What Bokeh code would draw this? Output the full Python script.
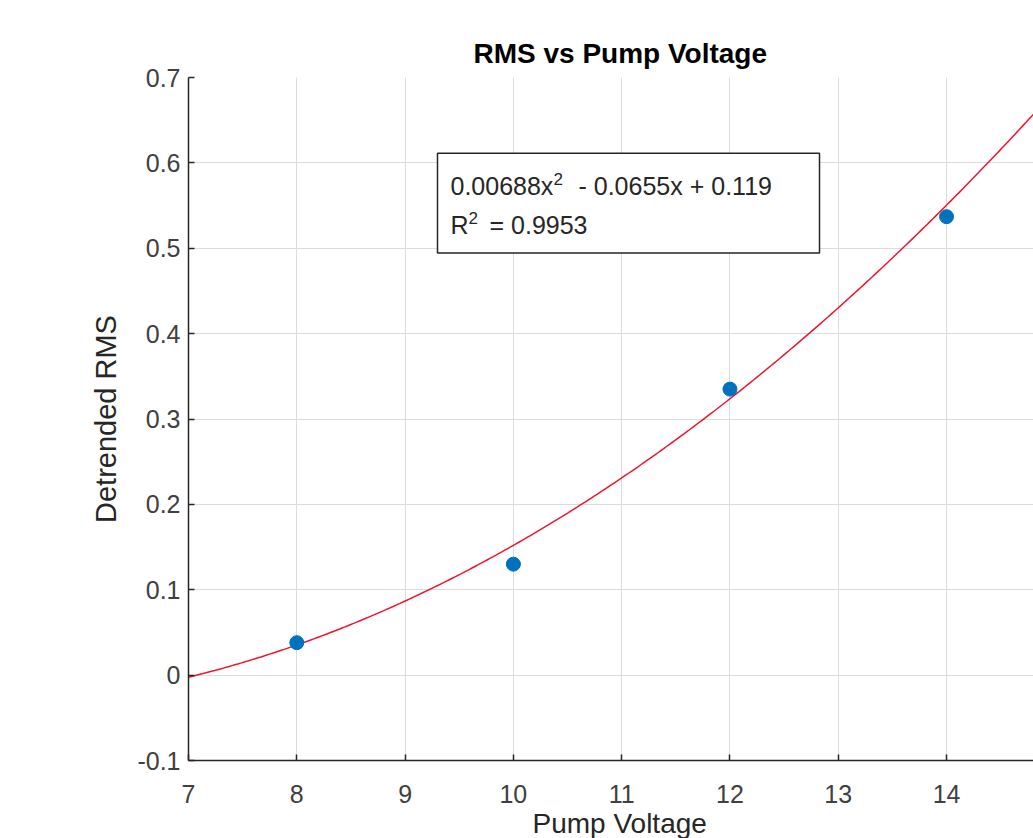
import numpy as np
from bokeh.plotting import figure
from bokeh.models import Range1d, FixedTicker, Label, BoxAnnotation, Title
from bokeh.embed import file_html
from bokeh.resources import INLINE

# Data
pump_voltage = [8, 10, 12, 14]
detrended_rms = [0.038, 0.130, 0.335, 0.537]
fit_coeffs = [0.00688, -0.0655, 0.119]   # quadratic fit shown in chart
x_ticks = [7, 8, 9, 10, 11, 12, 13, 14, 15]
y_ticks = [-0.1, 0, 0.1, 0.2, 0.3, 0.4, 0.5, 0.6, 0.7]
y_tick_labels = ["-0.1", "0", "0.1", "0.2", "0.3", "0.4", "0.5", "0.6", "0.7"]

FONT = "Liberation Sans"
TXT = "#404040"

X0, X1 = 7, 14.803
Y0, Y1 = -0.1, 0.7
FL, FT, FB, FR = 188, 77, 762, 1033   # frame edges in pixels


def px2x(px):
    return X0 + (px - FL) * (X1 - X0) / (FR - FL)


def py2y(py):
    return Y1 - (py - FT) * (Y1 - Y0) / (FB - FT)


p = figure(width=1033, height=838, output_backend="svg", toolbar_location=None,
           x_range=Range1d(X0, X1), y_range=Range1d(Y0, Y1),
           min_border_left=FL, min_border_right=0, min_border_top=FT, min_border_bottom=838 - FB)
p.outline_line_color = None
p.background_fill_color = "white"

for ax in (p.xaxis[0], p.yaxis[0]):
    ax.major_tick_in = 6
    ax.major_tick_out = 0
    ax.minor_tick_in = 0
    ax.minor_tick_out = 0
    ax.axis_line_color = "#262626"
    ax.axis_line_width = 1.5
    ax.major_tick_line_color = "#262626"
    ax.major_tick_line_width = 1.5
    ax.major_label_text_font = FONT
    ax.major_label_text_font_size = "25px"
    ax.major_label_text_color = TXT

p.xaxis.ticker = FixedTicker(ticks=x_ticks)
p.yaxis.ticker = FixedTicker(ticks=y_ticks)
p.yaxis.major_label_overrides = {t: l for t, l in zip(y_ticks, y_tick_labels)}
p.xaxis.major_label_standoff = 24
p.yaxis.major_label_standoff = 8

p.yaxis.axis_label = "Detrended RMS"
p.yaxis.axis_label_text_font = FONT
p.yaxis.axis_label_text_font_size = "29px"
p.yaxis.axis_label_text_font_style = "normal"
p.yaxis.axis_label_text_color = "#262626"
p.yaxis.axis_label_standoff = 12

p.xgrid.grid_line_color = "#dcdcdc"
p.ygrid.grid_line_color = "#dcdcdc"
p.xgrid.grid_line_width = 1
p.ygrid.grid_line_width = 1

# fit curve
xs = np.linspace(7, 15, 300)
ys = np.polyval(fit_coeffs, xs)
p.line(xs, ys, line_color="#f0142d", line_width=1.5)

# data points
p.scatter(pump_voltage, detrended_rms, size=14, fill_color="#0072BD", line_color="#0072BD")

# text box
box = BoxAnnotation(left=px2x(437), right=px2x(819), top=py2y(153), bottom=py2y(253),
                    fill_color="white", fill_alpha=1.0, line_color="#262626",
                    line_alpha=1.0, line_width=1.5)
p.add_layout(box)


def txt(px, py, s, size):
    p.add_layout(Label(x=px2x(px), y=py2y(py), text=s, text_font=FONT,
                       text_font_size=f"{size}px", text_color="#262626",
                       text_baseline="alphabetic", text_align="left"))


txt(450, 186, "0.00688x", 25)
txt(553, 179, "2", 17)
txt(578, 186, "- 0.0655x + 0.119", 25)
txt(450, 225, "R", 25)
txt(468, 218, "2", 17)
txt(489, 225, "= 0.9953", 25)

# title (positioned to be centered on full axes 7..15)
t = Title(text="RMS vs Pump Voltage", align="left", offset=285, standoff=18,
          text_font=FONT, text_font_size="28px", text_font_style="bold", text_color="black")
p.add_layout(t, "above")
xl = Title(text="Pump Voltage", align="left", offset=344, standoff=0,
           text_font=FONT, text_font_size="28px", text_font_style="normal", text_color="#262626")
p.add_layout(xl, "below")

open("out.html", "w").write(file_html(p, INLINE))
